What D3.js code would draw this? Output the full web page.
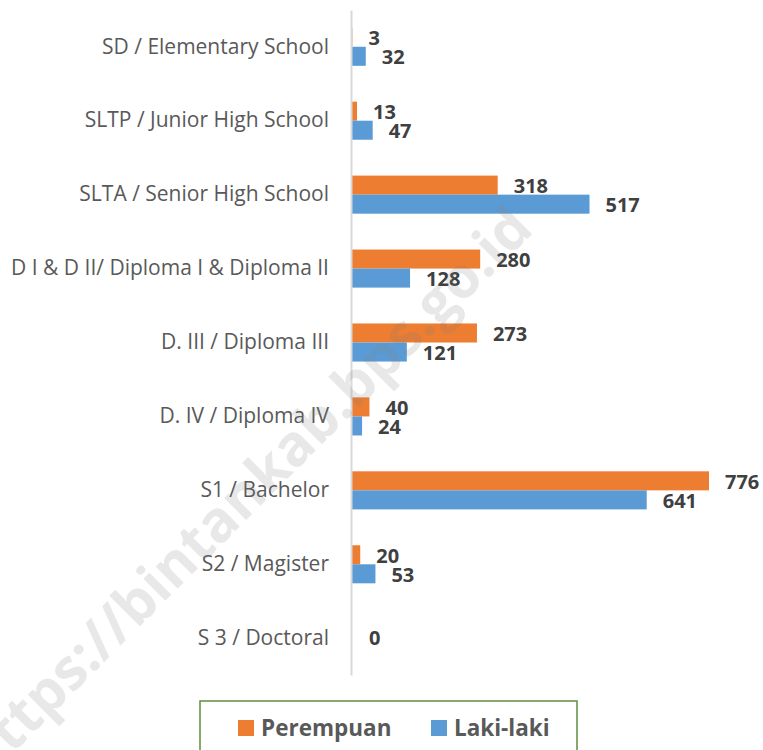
<!DOCTYPE html>
<html>
<head>
<meta charset="utf-8">
<script src="https://cdn.jsdelivr.net/npm/d3@7"></script>
<style>
  body { margin: 0; background: #fff; }
  svg { display: block; }
</style>
</head>
<body>
<svg id="chart" width="763" height="750"></svg>
<script>
// education levels, top to bottom
var categories = [
    "SD / Elementary School",
    "SLTP / Junior High School",
    "SLTA / Senior High School",
    "D I & D II/ Diploma I & Diploma II",
    "D. III / Diploma III",
    "D. IV / Diploma IV",
    "S1 / Bachelor",
    "S2 / Magister",
    "S 3 / Doctoral"
];
var perempuan = [3, 13, 318, 280, 273, 40, 776, 20, 0];
var lakiLaki = [32, 47, 517, 128, 121, 24, 641, 53, 0];
var seriesNames = ["Perempuan", "Laki-laki"];
var seriesColors = ["#ED7D31", "#5B9BD5"];

var svg = d3.select("#chart");
var font = "'Open Sans', sans-serif";

var x = d3.scaleLinear().domain([0, 776]).range([351, 709]);
var y = d3.scaleBand().domain(categories).range([10, 675]).paddingInner(0.485).paddingOuter(0.24);
var sub = d3.scaleBand().domain(seriesNames).range([0, y.bandwidth()]);

var rows = categories.map(function (c, i) {
    return { cat: c, values: [perempuan[i], lakiLaki[i]] };
});

// bars
var g = svg.append("g");
rows.forEach(function (r) {
    r.values.forEach(function (v, k) {
        if (v > 0) {
            g.append("rect")
                .attr("x", x(0))
                .attr("y", y(r.cat) + sub(seriesNames[k]))
                .attr("width", x(v) - x(0))
                .attr("height", sub.bandwidth())
                .attr("fill", seriesColors[k]);
        }
    });
});

// value labels (both zero -> a single label on the category centre)
rows.forEach(function (r) {
    if (r.values[0] === 0 && r.values[1] === 0) {
        g.append("text")
            .attr("x", x(0) + 18)
            .attr("y", y(r.cat) + y.bandwidth() / 2)
            .attr("dy", "0.35em")
            .attr("font-family", font).attr("font-weight", "bold").attr("font-size", 20)
            .attr("fill", "#404040")
            .text("0");
        return;
    }
    r.values.forEach(function (v, k) {
        g.append("text")
            .attr("x", x(v) + 16)
            .attr("y", y(r.cat) + sub(seriesNames[k]) + sub.bandwidth() / 2 + 1)
            .attr("dy", "0.35em")
            .attr("font-family", font).attr("font-weight", "bold").attr("font-size", 20)
            .attr("fill", "#404040")
            .text(v);
    });
});

// category axis
var yAxis = svg.append("g")
    .attr("transform", "translate(351,0)")
    .call(d3.axisLeft(y).tickSize(0).tickPadding(22));
yAxis.select(".domain").attr("stroke", "#d9d9d9").attr("stroke-width", 2);
yAxis.selectAll("text")
    .attr("font-family", font).attr("font-size", 21).attr("fill", "#595959");

// legend
var leg = svg.append("g");
leg.append("rect")
    .attr("x", 200).attr("y", 701).attr("width", 377).attr("height", 60)
    .attr("fill", "#fff").attr("stroke", "#5E8E3E").attr("stroke-width", 1.5);
var legX = [238, 431];
seriesNames.forEach(function (s, k) {
    leg.append("rect")
        .attr("x", legX[k]).attr("y", 720).attr("width", 16).attr("height", 16)
        .attr("fill", seriesColors[k]);
    leg.append("text")
        .attr("x", legX[k] + 23).attr("y", 728).attr("dy", "0.35em")
        .attr("font-family", font).attr("font-weight", "bold").attr("font-size", 22.5)
        .attr("fill", "#595959")
        .text(s);
});

// watermark
svg.append("text")
    .attr("transform", "translate(246,492) rotate(-45)")
    .attr("text-anchor", "middle").attr("dy", "0.35em")
    .attr("font-family", font).attr("font-weight", "bold").attr("font-size", 57)
    .attr("fill", "#808080").attr("fill-opacity", 0.18)
    .text("https://bintankab.bps.go.id");
</script>
</body>
</html>
